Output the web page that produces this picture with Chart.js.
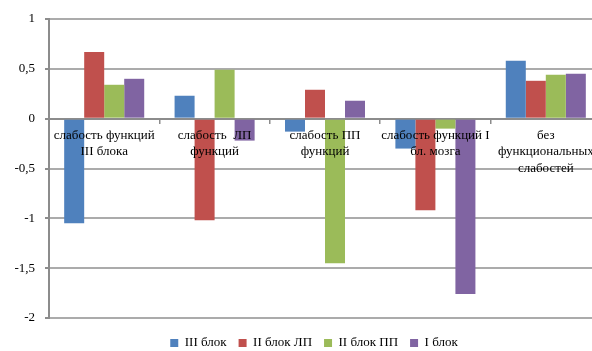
<!DOCTYPE html>
<html>
<head>
<meta charset="utf-8">
<script src="https://cdn.jsdelivr.net/npm/chart.js@4/dist/chart.umd.min.js"></script>
<style>
  html, body { margin: 0; padding: 0; overflow: hidden; background: #fff; }
  canvas { display: block; }
</style>
</head>
<body>
<canvas id="c" width="628" height="351"></canvas>
<script>
// Categories (multi-line labels) and series
const categories = [
  ["слабость функций", "III блока"],
  ["слабость  ЛП", "функций"],
  ["слабость ПП", "функций"],
  ["слабость функций I", "бл. мозга"],
  ["без", "функциональных", "слабостей"]
];
const seriesNames = ["III блок", "II блок ЛП", "II блок ПП", "I блок"];
const block3   = [-1.05,  0.23, -0.13, -0.30, 0.58];
const block2LP = [ 0.67, -1.02,  0.29, -0.92, 0.38];
const block2PP = [ 0.34,  0.49, -1.45, -0.10, 0.44];
const block1   = [ 0.40, -0.22,  0.18, -1.76, 0.45];
const yTickValues = [1, 0.5, 0, -0.5, -1, -1.5, -2];
const yTickLabels = ["1", "0,5", "0", "-0,5", "-1", "-1,5", "-2"];

const colors = ["#4F81BD", "#C0504D", "#9BBB59", "#8064A2"];
const serif = "'Liberation Serif', 'DejaVu Serif', serif";
const axisColor = "#8c8c8c";
const gridColor = "#ababab";

const seriesValues = [block3, block2LP, block2PP, block1];

new Chart(document.getElementById("c"), {
  type: "bar",
  data: {
    labels: categories,
    datasets: seriesNames.map((name, i) => ({
      label: name,
      data: seriesValues[i],
      backgroundColor: colors[i],
      borderWidth: 0,
      barPercentage: 1,
      categoryPercentage: 0.725
    }))
  },
  options: {
    responsive: false,
    animation: false,
    devicePixelRatio: 1,
    layout: { padding: { top: 19, left: 0, right: 0, bottom: -8.5 } },
    plugins: {
      tooltip: { enabled: false },
      legend: {
        position: "bottom",
        // empty title used only as vertical spacing above the legend row
        title: { display: true, text: "", font: { size: 1 }, padding: { top: 5.3, bottom: 0 } },
        labels: {
          boxWidth: 8,
          boxHeight: 8,
          padding: 12,
          color: "#000",
          font: { family: serif, size: 13 }
        }
      }
    },
    scales: {
      x: {
        position: { y: 0 },
        offset: true,
        grid: {
          display: true,
          offset: true,
          drawOnChartArea: false,
          drawTicks: true,
          tickLength: 4,
          color: axisColor,
          lineWidth: 1.5
        },
        border: { display: true, color: axisColor, width: 2 },
        ticks: {
          z: 1,
          autoSkip: false,
          maxRotation: 0,
          minRotation: 0,
          padding: 4,
          color: "#000",
          font: { family: serif, size: 13, lineHeight: 1.3 }
        }
      },
      y: {
        min: -2,
        max: 1,
        afterFit(scale) {
          scale.width = 49;
          scale.paddingTop = 0;
          scale.paddingBottom = 0;
        },
        grid: {
          color: gridColor,
          lineWidth: 2,
          tickLength: 4,
          tickColor: axisColor
        },
        border: { display: true, color: axisColor, width: 2 },
        ticks: {
          stepSize: 0.5,
          padding: 10,
          color: "#000",
          font: { family: serif, size: 13 },
          callback(v) {
            const i = yTickValues.indexOf(v);
            return i >= 0 ? yTickLabels[i] : "";
          }
        }
      },
      yRight: {
        position: "right",
        min: -2,
        max: 1,
        afterFit(scale) { scale.width = 27; },
        grid: { drawOnChartArea: false, drawTicks: false },
        border: { display: false },
        ticks: { display: false }
      }
    }
  }
});
</script>
</body>
</html>
